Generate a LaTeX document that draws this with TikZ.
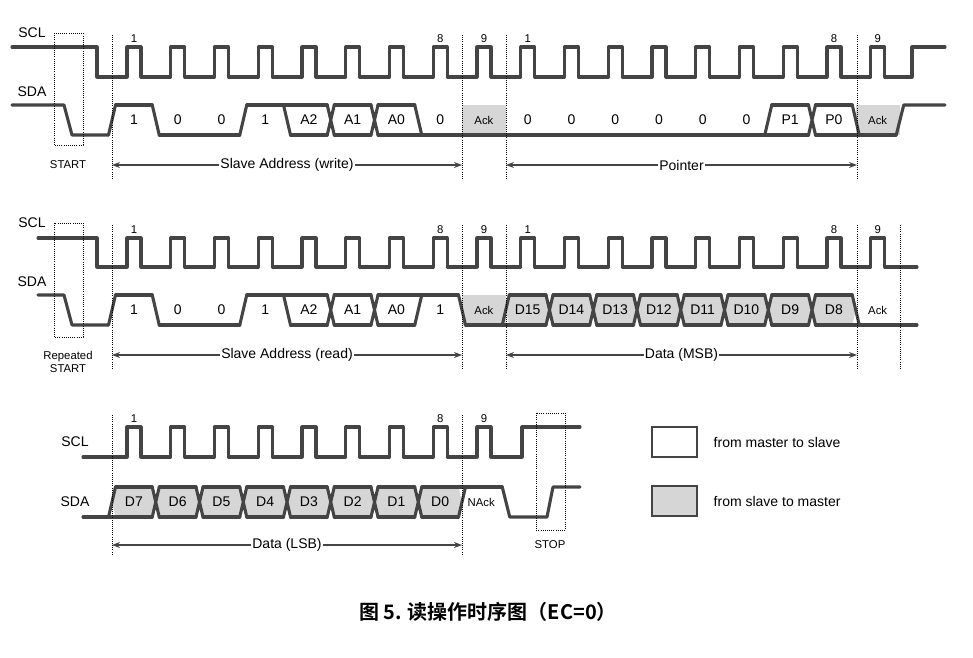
\documentclass[tikz,border=0pt]{standalone}
\usepackage{fontspec}
\setmainfont{Liberation Sans}
\newfontfamily\cjk{Noto Sans CJK SC}[BoldFont={* Bold}]
\usetikzlibrary{arrows.meta,backgrounds}
\definecolor{sigc}{HTML}{444444}
\tikzset{
 sig/.style={draw=sigc,line width=2.3pt,line join=round,line cap=round},
 dot/.style={draw=black,densely dotted,line width=0.6pt},
 slavefill/.style={fill=black!16},
 lab/.style={font=\fontsize{10.5}{12}\selectfont},
 small/.style={font=\fontsize{8.5}{10}\selectfont},
 span/.style={draw=sigc,line width=0.9pt,{Stealth[length=6pt]}-{Stealth[length=6pt]}},
}
% #1 top y, #2 bottom y, #3 x0, #4 list top/bot/fill/label
\newcommand\mybus[4]{%
 \foreach \ct/\cb/\cf/\lab [count=\i from 0, remember=\ct as \pt (initially 0), remember=\cb as \pb (initially 1)] in {#4} {
  \pgfmathsetmacro\b{#3+43.75*\i}\pgfmathsetmacro\e{\b+43.75}\pgfmathsetmacro\m{(#1+#2)/2}
  \begin{pgfonlayer}{background}
  \ifnum\cf=1 \fill[slavefill] (\b,\m)--(\b+3.5,#1)--(\e-3.5,#1)--(\e,\m)--(\e-3.5,#2)--(\b+3.5,#2)--cycle;\fi
  \ifnum\cf=2 \fill[slavefill] (\b,#1) rectangle (\e,#2);\fi
  \end{pgfonlayer}
  \ifnum\ct=1 \draw[sig] (\b+3.5,#1)--(\e-3.5,#1);\fi
  \ifnum\cb=1 \draw[sig] (\b+3.5,#2)--(\e-3.5,#2);\fi
  \pgfmathtruncatemacro\both{\pt*\pb*\ct*\cb}
  \ifnum\both=1
   \draw[sig] (\b-3.5,#1)--(\b+3.5,#2) (\b-3.5,#2)--(\b+3.5,#1);
  \else
   \ifnum\pt=1 \ifnum\ct=1 \draw[sig] (\b-3.5,#1)--(\b+3.5,#1);\fi \ifnum\cb=1 \draw[sig] (\b-3.5,#1)--(\b+3.5,#2);\fi\fi
   \ifnum\pb=1 \ifnum\ct=1 \draw[sig] (\b-3.5,#2)--(\b+3.5,#1);\fi \ifnum\cb=1 \draw[sig] (\b-3.5,#2)--(\b+3.5,#2);\fi\fi
  \fi
  \node[lab,inner sep=0pt] (c\i) at (\b+21.9,\m) {\lab};
 }}
\begin{document}
\begin{tikzpicture}[x=0.75pt,y=-0.75pt]
\useasboundingbox (0,0) rectangle (973,657);
% ---------- Row 1 ----------
\node[lab] (scl1) at (32,33) {SCL};
\node[lab] (sda1) at (32,92) {SDA};
\draw[sig] (12,47)--(97,47)--(97,77) \foreach \k in {0,...,17}{ --(127+43.75*\k,77)--++(0,-30)--++(14,0)--++(0,30)} --(912,77)--(912,47)--(945,47);
\foreach \k/\t in {0/1,7/8,8/9,9/1,16/8,17/9} \node[small] (n1\k) at (134+43.75*\k,39) {\t};
\draw[sig] (12,105)--(64,105)--(72,135)--(108.5,135);
\mybus{105}{135}{112}{1/0/0/1,0/1/0/0,0/1/0/0,1/0/0/1,1/1/0/A2,1/1/0/A1,1/1/0/A0,0/1/0/0,0/1/2/{\fontsize{8.5}{9}\selectfont Ack},0/1/0/0,0/1/0/0,0/1/0/0,0/1/0/0,0/1/0/0,0/1/0/0,1/1/0/P1,1/1/0/P0,0/1/2/{\fontsize{8.5}{9}\selectfont Ack}}
\draw[sig] (896.25,135)--(903.75,105)--(945,105);
\draw[dot] (54,33) rectangle (83,145);
\foreach \x in {112,462,506,857} \draw[dot] (\x,35)--(\x,180);
\node[small] (st1) at (68,165) {START};
\draw[span] (112,165)--(462,165) node[lab,midway,fill=white,inner sep=1pt] (l1) {Slave Address (write)};
\draw[span] (506,165)--(857,165) node[lab,midway,fill=white,inner sep=1pt] (l2) {Pointer};
% ---------- Row 2 ----------
\node[lab] (scl2) at (32,223) {SCL};
\node[lab] (sda2) at (32,282) {SDA};
\draw[sig] (38,238)--(97,238)--(97,267) \foreach \k in {0,...,17}{ --(127+43.75*\k,267)--++(0,-29)--++(14,0)--++(0,29)} --(917,267);
\foreach \k/\t in {0/1,7/8,8/9,9/1,16/8,17/9} \node[small] (n2\k) at (134+43.75*\k,230) {\t};
\draw[sig] (38,295)--(64,295)--(72,325)--(108.5,325);
\mybus{295}{325}{112}{1/0/0/1,0/1/0/0,0/1/0/0,1/0/0/1,1/1/0/A2,1/1/0/A1,1/1/0/A0,1/0/0/1,0/1/2/{\fontsize{8.5}{9}\selectfont Ack},1/1/1/D15,1/1/1/D14,1/1/1/D13,1/1/1/D12,1/1/1/D11,1/1/1/D10,1/1/1/D9,1/1/1/D8,0/1/0/{\fontsize{8.5}{9}\selectfont Ack}}
\draw[sig] (896.25,325)--(917,325);
\draw[dot] (54,223) rectangle (83,337);
\foreach \x in {112,462,506,857,900} \draw[dot] (\x,225)--(\x,370);
\node[small,align=center] (st2) at (68,362) {Repeated\\START};
\draw[span] (112,355)--(462,355) node[lab,midway,fill=white,inner sep=1pt] (l3) {Slave Address (read)};
\draw[span] (506,355)--(857,355) node[lab,midway,fill=white,inner sep=1pt] (l4) {Data (MSB)};
% ---------- Row 3 ----------
\node[lab] (scl3) at (75,442) {SCL};
\node[lab] (sda3) at (75,502) {SDA};
\draw[sig] (83,457) \foreach \k in {0,...,8}{ --(127+43.75*\k,457)--++(0,-30)--++(14,0)--++(0,30)} --(522,457)--(522,427)--(580,427);
\foreach \k/\t in {0/1,7/8,8/9} \node[small] (n3\k) at (134+43.75*\k,419) {\t};
\draw[sig] (83,517)--(108.5,517);
\mybus{487}{517}{112}{1/1/1/D7,1/1/1/D6,1/1/1/D5,1/1/1/D4,1/1/1/D3,1/1/1/D2,1/1/1/D1,1/1/1/D0,1/0/0/{\hspace*{-4pt}\fontsize{8.5}{9}\selectfont NAck}}
\draw[sig] (502.25,487)--(509.75,517)--(547,517)--(553,487)--(580,487);
\draw[dot] (536,413) rectangle (565,530);
\foreach \x in {112,462} \draw[dot] (\x,415)--(\x,555);
\node[small] (st3) at (550,545) {STOP};
\draw[span] (112,545)--(462,545) node[lab,midway,fill=white,inner sep=1pt] (l5) {Data (LSB)};
% ---------- Legend ----------
\draw[draw=sigc,line width=1pt] (652,427) rectangle (697,457);
\draw[draw=sigc,line width=1pt,slavefill] (652,486) rectangle (697,516);
\node[lab,anchor=west] (g1) at (709,442) {from master to slave};
\node[lab,anchor=west] (g2) at (709,501) {from slave to master};
% ---------- Caption ----------
\node[font=\cjk\bfseries\fontsize{15}{17}\selectfont] (cap) at (488,612) {图 5. 读操作时序图（EC=0）};
\end{tikzpicture}
\end{document}
